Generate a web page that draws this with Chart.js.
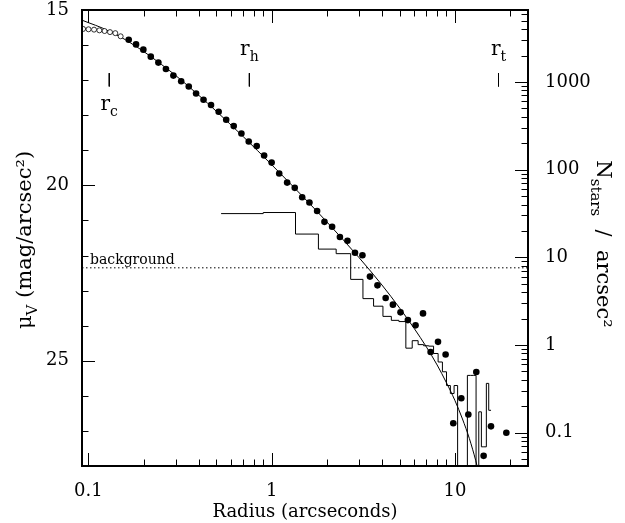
<!DOCTYPE html>
<html>
<head>
<meta charset="utf-8">
<script src="https://cdn.jsdelivr.net/npm/chart.js@4"></script>
<style>
  html, body { margin: 0; padding: 0; background: #fff; }
</style>
</head>
<body>
<canvas id="profile" width="625" height="523"></canvas>
<script>
// surface brightness profile, radius in arcsec, mu in mag/arcsec^2
const innerRadius = [0.0936, 0.1002, 0.1074, 0.1148, 0.1226, 0.1312, 0.1403, 0.150];
const innerMu = [15.54, 15.55, 15.56, 15.58, 15.60, 15.63, 15.66, 15.75];

const outerRadius = [0.166, 0.182, 0.1995, 0.219, 0.241, 0.265, 0.291, 0.321, 0.353, 0.387,
  0.425, 0.467, 0.514, 0.565, 0.621, 0.684, 0.750, 0.829, 0.910, 1.00,
  1.10, 1.215, 1.337, 1.468, 1.608, 1.771, 1.942, 2.138, 2.358, 2.593,
  2.850, 3.13, 3.44, 3.78, 4.19, 4.59, 5.05, 5.54, 6.10, 6.70,
  7.37, 8.09, 8.90, 9.80, 10.84, 11.84, 13.09, 14.35, 15.74, 19.09];
const outerMu = [15.85, 15.98, 16.13, 16.33, 16.50, 16.68, 16.87, 17.03, 17.18, 17.38,
  17.56, 17.71, 17.90, 18.13, 18.31, 18.52, 18.75, 18.88, 19.15, 19.35,
  19.66, 19.92, 20.07, 20.34, 20.49, 20.73, 21.04, 21.18, 21.47, 21.58,
  21.92, 21.99, 22.60, 22.85, 23.21, 23.40, 23.62, 23.84, 23.99, 23.65,
  24.75, 24.46, 24.82, 26.78, 26.07, 26.53, 25.32, 27.71, 26.87, 27.05];

// King model curve
const kingRadius = [0.0923, 0.1, 0.12, 0.13, 0.15, 0.17, 0.2, 0.25, 0.3, 0.4, 0.5, 0.7, 1, 1.5, 2,
  3, 4, 5, 6, 7, 8, 9, 10, 11, 12, 13, 13.5];
const kingMu = [15.29, 15.36, 15.52, 15.61, 15.77, 15.94, 16.18, 16.55, 16.87, 17.43, 17.89, 18.61, 19.41, 20.35, 21.04,
  22.06, 22.84, 23.50, 24.08, 24.61, 25.12, 25.63, 26.13, 26.66, 27.22, 27.85, 28.20];

// star counts histogram (stars / arcsec^2), bin edges in arcsec
const binEdges = [0.53, 0.9, 1.35, 1.8, 2.25, 2.7, 3.15, 3.6, 4.05, 4.5, 4.95, 5.4, 5.85, 6.3, 6.75,
  7.2, 7.65, 8.1, 8.55, 9.0, 9.45, 9.9, 10.35, 10.8, 11.25, 11.7, 12.15, 12.6, 13.05, 13.5,
  13.95, 14.4, 14.85, 15.3, 15.75];
const binCounts = [31.5, 32.4, 18.4, 12.4, 11.0, 5.6, 3.38, 2.77, 2.12, 1.91, 1.85, 0.92, 1.12, 1.01,
  0.98, 0.97, 0.80, 0.64, 0.495, 0.345, 0.28, 0.345, 0, 0, 0, 0.45, 0.45, 0.45, 0, 0.173,
  0.069, 0.069, 0.365, 0.18];

const backgroundMu = 22.35;
const markRadius = [0.13, 0.756, 17.3];
const markSub = ["c", "h", "t"];
const markAbove = [false, true, true];

const xTicks = [0.1, 1, 10];
const muTicks = [15, 20, 25];
const nTicks = [0.1, 1, 10, 100, 1000];

const xMin = 0.0923, xMax = 25.06;
const muMin = 15, muMax = 28;
const nMin = 0.0417, nMax = 6607;

const SERIF = "'DejaVu Serif', 'Liberation Serif', serif";
Chart.defaults.font.family = SERIF;
Chart.defaults.color = "#000";

const histPoints = binCounts.map((n, i) => ({ x: binEdges[i], y: n > 0 ? n : 1e-3 }));
const lastCount = binCounts[binCounts.length - 1];
histPoints.push({ x: binEdges[binEdges.length - 1], y: lastCount > 0 ? lastCount : 1e-3 });

const markSets = markRadius.map(r => ({
  data: [{ x: r, y: 16.8 }, { x: r, y: 17.18 }],
  borderColor: "#000", borderWidth: 1, pointRadius: 0, yAxisID: "y"
}));

function drawRich(ctx, parts, cx, cy, angle, size) {
  ctx.save();
  ctx.translate(cx, cy);
  ctx.rotate(angle);
  ctx.textAlign = "left";
  ctx.textBaseline = "alphabetic";
  ctx.fillStyle = "#000";
  const fonts = parts.map(p => (p.sub ? Math.round(size * 0.7) : size) + "px " + SERIF);
  const widths = parts.map((p, i) => { ctx.font = fonts[i]; return ctx.measureText(p.t).width; });
  let x = -widths.reduce((a, b) => a + b, 0) / 2;
  parts.forEach((p, i) => {
    ctx.font = fonts[i];
    ctx.fillText(p.t, x, p.sub ? size * 0.3 : 0);
    x += widths[i];
  });
  ctx.restore();
}

// no automatic label overhang padding, the frame is fixed
function fixVertical(w) {
  return s => { s.width = w; s.paddingTop = 0; s.paddingBottom = 0; };
}

// frame, inward ticks, marker labels and side titles
const decorations = {
  id: "decorations",
  afterDraw(chart) {
    const { ctx, chartArea: a, scales } = chart;
    const xs = scales.x, ys = scales.y, ns = scales.y2;
    ctx.save();
    ctx.strokeStyle = "#000";
    ctx.lineWidth = 1;
    ctx.beginPath();
    for (let d = -2; d <= 2; d++) {
      for (let m = 1; m <= 9; m++) {
        const v = m * Math.pow(10, d);
        if (v < xMin || v > xMax) continue;
        const px = Math.round(xs.getPixelForValue(v)) + 0.5;
        const len = m === 1 ? 13 : 6.5;
        ctx.moveTo(px, a.bottom); ctx.lineTo(px, a.bottom - len);
        ctx.moveTo(px, a.top); ctx.lineTo(px, a.top + len);
      }
    }
    for (let v = muMin; v <= muMax; v++) {
      const py = Math.round(ys.getPixelForValue(v)) + 0.5;
      const len = v % 5 === 0 ? 13 : 6.5;
      ctx.moveTo(a.left, py); ctx.lineTo(a.left + len, py);
    }
    for (let d = -2; d <= 4; d++) {
      for (let m = 1; m <= 9; m++) {
        const v = m * Math.pow(10, d);
        if (v < nMin || v > nMax) continue;
        const py = Math.round(ns.getPixelForValue(v)) + 0.5;
        const len = m === 1 ? 13 : 6.5;
        ctx.moveTo(a.right, py); ctx.lineTo(a.right - len, py);
      }
    }
    ctx.stroke();
    ctx.lineWidth = 2;
    ctx.strokeRect(a.left, a.top, a.right - a.left, a.bottom - a.top);

    // r_c, r_h, r_t labels
    markRadius.forEach((r, i) => {
      const px = xs.getPixelForValue(r);
      const py = markAbove[i] ? ys.getPixelForValue(16.8) - 18 : ys.getPixelForValue(17.18) + 24;
      drawRich(ctx, [{ t: "r" }, { t: markSub[i], sub: true }], px, py, 0, 20);
    });

    // background label
    ctx.font = "14px " + SERIF;
    ctx.textAlign = "left";
    ctx.textBaseline = "alphabetic";
    ctx.fillStyle = "#000";
    ctx.fillText("background", a.left + 8, ys.getPixelForValue(backgroundMu) - 4);

    drawRich(ctx, [{ t: "\u03bc" }, { t: "V", sub: true }, { t: " (mag/arcsec\u00b2)" }], 31, 240, -Math.PI / 2, 21);
    drawRich(ctx, [{ t: "N" }, { t: "stars", sub: true }, { t: "  /  arcsec\u00b2" }], 597, 244, Math.PI / 2, 21);
    ctx.restore();
  }
};

new Chart(document.getElementById("profile"), {
  type: "line",
  data: {
    datasets: [
      {
        data: outerRadius.map((r, i) => ({ x: r, y: outerMu[i] })),
        showLine: false, pointRadius: 3.3, pointBackgroundColor: "#000",
        pointBorderColor: "#000", pointBorderWidth: 0, yAxisID: "y"
      },
      {
        data: innerRadius.map((r, i) => ({ x: r, y: innerMu[i] })),
        showLine: false, pointRadius: 2.5, pointBackgroundColor: "#fff",
        pointBorderColor: "#000", pointBorderWidth: 0.8, yAxisID: "y"
      },
      {
        data: kingRadius.map((r, i) => ({ x: r, y: kingMu[i] })),
        borderColor: "#000", borderWidth: 1, pointRadius: 0,
        cubicInterpolationMode: "monotone", yAxisID: "y"
      },
      {
        data: histPoints,
        borderColor: "#000", borderWidth: 1, pointRadius: 0,
        stepped: "before", yAxisID: "y2"
      },
      {
        data: [{ x: xMin, y: backgroundMu }, { x: xMax, y: backgroundMu }],
        borderColor: "#000", borderWidth: 1, borderDash: [1.5, 2.5], pointRadius: 0, yAxisID: "y"
      },
      ...markSets
    ]
  },
  options: {
    responsive: false,
    animation: false,
    devicePixelRatio: 1,
    layout: { autoPadding: false, padding: { top: 10, left: 0, right: 0, bottom: 0 } },
    plugins: { legend: { display: false }, tooltip: { enabled: false } },
    scales: {
      x: {
        type: "logarithmic", min: xMin, max: xMax,
        afterBuildTicks: s => { s.ticks = xTicks.map(v => ({ value: v })); },
        afterFit: s => { s.height = 57; s.paddingLeft = 0; s.paddingRight = 0; },
        grid: { display: false, drawTicks: false }, border: { display: false },
        ticks: { font: { size: 18 }, padding: 15, maxRotation: 0, autoSkip: false, callback: v => String(v) },
        title: { display: true, text: "Radius (arcseconds)", font: { size: 18 }, padding: { top: 0, bottom: 0 } }
      },
      y: {
        type: "linear", position: "left", reverse: true, min: muMin, max: muMax,
        afterBuildTicks: s => { s.ticks = muTicks.map(v => ({ value: v })); },
        afterFit: fixVertical(82),
        grid: { display: false, drawTicks: false }, border: { display: false },
        ticks: { font: { size: 18 }, padding: 13 }
      },
      y2: {
        type: "logarithmic", position: "right", min: nMin, max: nMax,
        afterBuildTicks: s => { s.ticks = nTicks.map(v => ({ value: v })); },
        afterFit: fixVertical(97),
        grid: { display: false, drawTicks: false }, border: { display: false },
        ticks: { font: { size: 18 }, padding: 17, autoSkip: false, callback: v => String(v) }
      }
    }
  },
  plugins: [decorations]
});
</script>
</body>
</html>
